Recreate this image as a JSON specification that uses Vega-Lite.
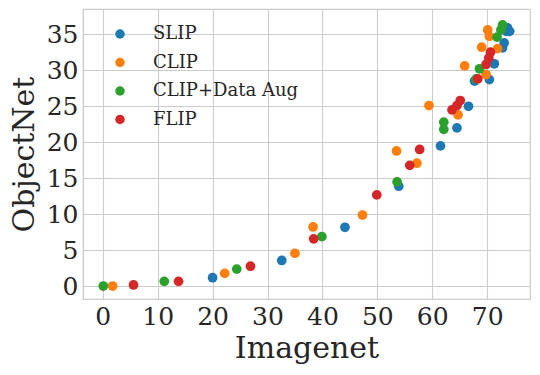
{
  "$schema": "https://vega.github.io/schema/vega-lite/v6.json",
  "width": 447,
  "height": 290,
  "autosize": "none",
  "padding": {"left": 83, "top": 9, "right": 10, "bottom": 76},
  "background": "white",
  "config": {
    "font": "DejaVu Serif",
    "view": {"stroke": "#cccccc", "strokeWidth": 1.2},
    "axis": {
      "gridColor": "#cccccc",
      "gridWidth": 1.1,
      "domainColor": "#cccccc",
      "domainWidth": 1.2,
      "ticks": false,
      "labelFont": "DejaVu Serif",
      "labelFontSize": 25,
      "labelColor": "#262626",
      "titleFont": "DejaVu Serif",
      "titleFontSize": 30,
      "titleFontWeight": "normal",
      "titleColor": "#262626"
    },
    "legend": {"labelFont": "DejaVu Serif"}
  },
  "data": {
    "values": [
      {"model": "SLIP", "imagenet": 20.0, "objectnet": 1.2},
      {"model": "SLIP", "imagenet": 32.6, "objectnet": 3.6},
      {"model": "SLIP", "imagenet": 44.1, "objectnet": 8.2},
      {"model": "SLIP", "imagenet": 53.9, "objectnet": 13.9},
      {"model": "SLIP", "imagenet": 61.5, "objectnet": 19.5},
      {"model": "SLIP", "imagenet": 64.5, "objectnet": 22.0},
      {"model": "SLIP", "imagenet": 66.6, "objectnet": 25.0},
      {"model": "SLIP", "imagenet": 67.7, "objectnet": 28.5},
      {"model": "SLIP", "imagenet": 70.4, "objectnet": 28.7},
      {"model": "SLIP", "imagenet": 71.3, "objectnet": 30.9},
      {"model": "SLIP", "imagenet": 72.8, "objectnet": 33.1},
      {"model": "SLIP", "imagenet": 73.1, "objectnet": 33.8},
      {"model": "SLIP", "imagenet": 73.5, "objectnet": 35.4},
      {"model": "SLIP", "imagenet": 73.7, "objectnet": 35.9},
      {"model": "SLIP", "imagenet": 74.1, "objectnet": 35.4},
      {"model": "CLIP", "imagenet": 1.8, "objectnet": 0.05},
      {"model": "CLIP", "imagenet": 22.2, "objectnet": 1.8},
      {"model": "CLIP", "imagenet": 35.0, "objectnet": 4.6},
      {"model": "CLIP", "imagenet": 38.3, "objectnet": 8.25},
      {"model": "CLIP", "imagenet": 47.3, "objectnet": 9.9},
      {"model": "CLIP", "imagenet": 53.5, "objectnet": 18.8},
      {"model": "CLIP", "imagenet": 57.2, "objectnet": 17.1},
      {"model": "CLIP", "imagenet": 59.4, "objectnet": 25.1},
      {"model": "CLIP", "imagenet": 64.7, "objectnet": 23.8},
      {"model": "CLIP", "imagenet": 65.9, "objectnet": 30.6},
      {"model": "CLIP", "imagenet": 69.0, "objectnet": 33.2},
      {"model": "CLIP", "imagenet": 69.8, "objectnet": 29.4},
      {"model": "CLIP", "imagenet": 70.1, "objectnet": 35.6},
      {"model": "CLIP", "imagenet": 70.4, "objectnet": 34.7},
      {"model": "CLIP", "imagenet": 71.9, "objectnet": 33.0},
      {"model": "CLIP+Data Aug", "imagenet": 0.1, "objectnet": 0.05},
      {"model": "CLIP+Data Aug", "imagenet": 11.2, "objectnet": 0.7},
      {"model": "CLIP+Data Aug", "imagenet": 24.4, "objectnet": 2.4},
      {"model": "CLIP+Data Aug", "imagenet": 39.9, "objectnet": 6.9},
      {"model": "CLIP+Data Aug", "imagenet": 53.6, "objectnet": 14.5},
      {"model": "CLIP+Data Aug", "imagenet": 62.1, "objectnet": 21.8},
      {"model": "CLIP+Data Aug", "imagenet": 62.1, "objectnet": 22.8},
      {"model": "CLIP+Data Aug", "imagenet": 68.0, "objectnet": 28.8},
      {"model": "CLIP+Data Aug", "imagenet": 68.6, "objectnet": 30.2},
      {"model": "CLIP+Data Aug", "imagenet": 71.8, "objectnet": 34.6},
      {"model": "CLIP+Data Aug", "imagenet": 72.5, "objectnet": 35.6},
      {"model": "CLIP+Data Aug", "imagenet": 72.8, "objectnet": 36.3},
      {"model": "FLIP", "imagenet": 5.6, "objectnet": 0.2},
      {"model": "FLIP", "imagenet": 13.8, "objectnet": 0.7},
      {"model": "FLIP", "imagenet": 26.9, "objectnet": 2.8},
      {"model": "FLIP", "imagenet": 38.4, "objectnet": 6.6},
      {"model": "FLIP", "imagenet": 49.9, "objectnet": 12.7},
      {"model": "FLIP", "imagenet": 55.9, "objectnet": 16.8},
      {"model": "FLIP", "imagenet": 57.7, "objectnet": 19.0},
      {"model": "FLIP", "imagenet": 63.6, "objectnet": 24.5},
      {"model": "FLIP", "imagenet": 64.5, "objectnet": 25.1},
      {"model": "FLIP", "imagenet": 65.1, "objectnet": 25.8},
      {"model": "FLIP", "imagenet": 68.3, "objectnet": 28.8},
      {"model": "FLIP", "imagenet": 69.8, "objectnet": 30.8},
      {"model": "FLIP", "imagenet": 70.3, "objectnet": 31.7},
      {"model": "FLIP", "imagenet": 70.6, "objectnet": 32.5}
    ]
  },
  "mark": {"type": "point", "filled": true, "opacity": 1, "size": 95},
  "encoding": {
    "x": {
      "field": "imagenet", "type": "quantitative", "title": "Imagenet",
      "scale": {"domain": [-3.6, 77.8], "nice": false, "zero": false},
      "axis": {"values": [0, 10, 20, 30, 40, 50, 60, 70], "labelPadding": 5, "titlePadding": 4}
    },
    "y": {
      "field": "objectnet", "type": "quantitative", "title": "ObjectNet",
      "scale": {"domain": [-1.75, 38.5], "nice": false, "zero": false},
      "axis": {"values": [0, 5, 10, 15, 20, 25, 30, 35], "labelPadding": 5, "titlePadding": 7}
    },
    "color": {
      "field": "model", "type": "nominal", "title": null,
      "sort": ["SLIP", "CLIP", "CLIP+Data Aug", "FLIP"],
      "scale": {"domain": ["SLIP", "CLIP", "CLIP+Data Aug", "FLIP"], "range": ["#1f77b4", "#ff7f0e", "#2ca02c", "#d62728"]},
      "legend": {
        "orient": "none", "legendX": 28, "legendY": 16,
        "symbolType": "circle", "symbolSize": 90, "symbolStrokeWidth": 0,
        "labelFontSize": 18, "labelColor": "#262626", "labelOffset": 24,
        "rowPadding": 10.5, "padding": 0
      }
    }
  }
}
